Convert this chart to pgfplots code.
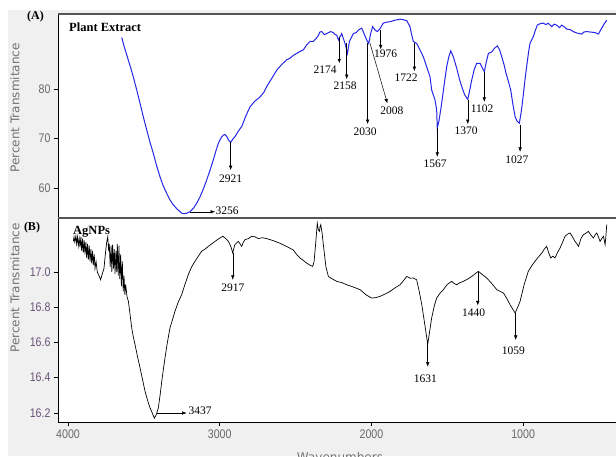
\documentclass[border=0pt]{standalone}
\usepackage{fontspec}
\setmainfont{Liberation Serif}
\newfontfamily\ticfont{Liberation Sans}[FakeStretch=0.85]
\newfontfamily\labfont{DejaVu Sans}
\usepackage{pgfplots}
\pgfplotsset{compat=1.18}
\usetikzlibrary{arrows.meta}
\definecolor{bgGray}{HTML}{F0F0F0}
\definecolor{tickGray}{HTML}{6A6A6A}
\definecolor{tickPurple}{HTML}{6A5278}
\definecolor{labGray}{HTML}{727272}
\definecolor{frameGray}{HTML}{565656}
\definecolor{specBlue}{HTML}{2626E8}
\tikzset{
  ann/.style={black, line width=0.5pt, -{Latex[length=4.5pt,width=3.5pt]}},
  annf/.style={font=\fontsize{11.5}{12}\selectfont, inner sep=0.5pt, text=black},
}
\pgfplotsset{
  base/.style={
    scale only axis, width=558pt,
    xmin=388, xmax=4066, x dir=reverse,
    axis background/.style={fill=white},
    axis x line*=bottom, axis y line*=left,
    tick align=outside, major tick length=4pt,
    tick style={black, line width=0.5pt},
    /pgf/number format/assume math mode=true,
    /pgf/number format/1000 sep={},
    clip mode=individual,
    axis line style={black, line width=0.6pt},
  }
}
\begin{document}
\begin{tikzpicture}[x=1pt,y=1pt]
\useasboundingbox (0,0) rectangle (616,456);
\fill[bgGray] (8,0) rectangle (616,446);

% ---------------- Top panel ----------------
\begin{axis}[base, at={(58pt,442pt)}, anchor=north west, height=203pt,
  ymin=54.14, ymax=95.15, ytick={60,70,80}, xtick=\empty,
  yticklabel style={font=\ticfont\fontsize{12.5}{13}\selectfont, text=tickGray}]
\addplot[specBlue, line width=1pt] coordinates {
(3646,90.4)(3630,88.6)(3613,86.9)(3590,84.6)(3570,82.5)(3548,79.9)(3525,77.1)(3503,74.3)(3481,71.7)(3460,69.3)(3438,67.0)(3416,64.5)(3394,62.3)(3372,60.4)(3349,58.9)(3328,57.6)(3306,56.6)(3280,55.7)(3250,54.9)(3235,54.8)(3218,54.9)(3196,55.2)(3174,55.9)(3152,56.9)(3130,58.2)(3108,59.8)(3086,61.6)(3064,63.6)(3042,65.7)(3025,67.5)(3009,69.0)(2990,70.2)(2976,70.7)(2965,70.8)(2954,70.4)(2940,69.6)(2928,69.2)(2913,69.9)(2899,70.4)(2877,71.5)(2855,72.4)(2830,74.4)(2800,76.4)(2770,77.5)(2734,78.4)(2710,79.3)(2690,80.5)(2660,82.0)(2624,83.8)(2590,85.0)(2558,85.9)(2537,86.2)(2515,86.8)(2492,87.2)(2470,87.6)(2449,87.9)(2427,88.9)(2405,89.6)(2383,89.6)(2365,90.2)(2350,90.8)(2340,91.5)(2328,91.6)(2310,91.0)(2295,91.2)(2270,91.6)(2251,91.4)(2240,91.0)(2229,90.9)(2218,89.9)(2196,91.2)(2174,89.2)(2158,87.2)(2145,89.6)(2119,91.2)(2100,91.4)(2086,91.9)(2064,92.3)(2049,91.2)(2031,89.9)(2018,89.2)(2005,91.2)(1992,92.6)(1976,91.9)(1961,91.6)(1943,92.2)(1922,93.3)(1900,93.5)(1877,93.6)(1845,93.9)(1811,94.1)(1790,94.0)(1767,93.8)(1746,92.6)(1735,91.0)(1724,89.6)(1702,89.2)(1680,87.9)(1658,86.5)(1636,84.5)(1614,82.5)(1603,79.8)(1581,77.8)(1570,75.8)(1566,72.1)(1555,73.5)(1537,77.1)(1520,81.0)(1504,84.5)(1490,86.5)(1477,87.7)(1460,86.5)(1438,84.2)(1420,82.0)(1405,80.5)(1385,78.8)(1365,77.9)(1352,79.8)(1339,81.8)(1322,84.0)(1306,85.2)(1284,85.2)(1270,84.3)(1256,83.5)(1242,85.6)(1229,87.2)(1207,87.5)(1190,88.2)(1170,88.7)(1155,87.9)(1141,86.5)(1125,84.8)(1113,83.2)(1097,81.5)(1082,79.8)(1068,77.0)(1053,74.4)(1040,73.5)(1025,73.1)(1012,75.5)(999,78.8)(988,81.8)(977,84.5)(965,87.3)(955,89.2)(933,90.6)(920,91.8)(907,92.9)(887,93.2)(867,93.3)(850,93.0)(835,93.3)(812,92.6)(795,93.1)(779,92.9)(760,92.4)(746,92.9)(730,92.6)(713,92.1)(690,92.0)(670,91.6)(645,91.3)(614,91.1)(600,91.5)(581,91.6)(555,91.5)(526,91.4)(504,91.1)(482,92.3)(465,93.2)(449,93.9)
};
\draw[ann] (axis cs:3196,55.2) -- (axis cs:3031,55.2);
\node[annf, anchor=west] at (axis cs:3031,55.4) {3256};
\draw[ann] (axis cs:2928,69.2) -- (axis cs:2928,63.6);
\node[annf] at (axis cs:2928,61.8) {2921};
\draw[ann] (axis cs:2212,90.6) -- (axis cs:2212,85.2);
\node[annf] at (axis cs:2306,83.8) {2174};
\draw[ann] (axis cs:2163,89.2) -- (axis cs:2163,82.0);
\node[annf] at (axis cs:2174,80.6) {2158};
\draw[ann] (axis cs:2025,89.2) -- (axis cs:2025,72.9);
\node[annf] at (axis cs:2042,71.3) {2030};
\draw[ann] (axis cs:2009,89.2) -- (axis cs:1895,77.1);
\node[annf] at (axis cs:1866,75.6) {2008};
\draw[ann] (axis cs:1939,91.9) -- (axis cs:1939,88.0);
\node[annf] at (axis cs:1906,87.2) {1976};
\draw[ann] (axis cs:1717,89.2) -- (axis cs:1717,83.6);
\node[annf] at (axis cs:1772,82.3) {1722};
\draw[ann] (axis cs:1566,72.1) -- (axis cs:1566,66.3);
\node[annf] at (axis cs:1581,64.8) {1567};
\draw[ann] (axis cs:1365,77.8) -- (axis cs:1365,72.9);
\node[annf] at (axis cs:1376,71.6) {1370};
\draw[ann] (axis cs:1256,83.5) -- (axis cs:1256,77.4);
\node[annf] at (axis cs:1271,76.1) {1102};
\draw[ann] (axis cs:1020,72.7) -- (axis cs:1020,67.3);
\node[annf] at (axis cs:1042,65.8) {1027};
\end{axis}

% ---------------- Bottom panel ----------------
\begin{axis}[base, at={(58pt,238pt)}, anchor=north west, height=204pt,
  ymin=16.148, ymax=17.307, ytick={16.2,16.4,16.6,16.8,17.0},
  yticklabel style={font=\ticfont\fontsize{12.5}{13}\selectfont, text=tickPurple,
    /pgf/number format/fixed, /pgf/number format/precision=1, /pgf/number format/fixed zerofill},
  xtick={1000,2000,3000,4000},
  xticklabel style={font=\ticfont\fontsize{12.5}{13}\selectfont, text=tickGray}]
\addplot[black, line width=0.7pt] coordinates {
(3965,17.174)(3960,17.2)(3955,17.17)(3948,17.205)(3943,17.16)(3937,17.2)(3932,17.15)(3926,17.19)(3921,17.14)(3915,17.2)(3910,17.12)(3904,17.19)(3899,17.11)(3893,17.18)(3888,17.1)(3882,17.17)(3877,17.08)(3871,17.16)(3866,17.07)(3860,17.15)(3855,17.06)(3849,17.13)(3844,17.05)(3838,17.12)(3833,17.04)(3827,17.1)(3822,17.02)(3815,17.06)(3807,17.0)(3796,16.98)(3785,16.956)(3774,16.99)(3763,17.02)(3754,17.1)(3745,17.17)(3738,17.2)(3732,17.12)(3728,17.16)(3722,17.03)(3716,17.15)(3711,17.0)(3706,17.155)(3700,17.02)(3695,17.13)(3690,16.99)(3684,17.12)(3679,17.0)(3675,17.16)(3669,16.98)(3664,17.15)(3659,16.96)(3653,17.1)(3648,16.92)(3642,17.06)(3636,16.89)(3631,16.98)(3625,16.87)(3620,16.93)(3611,16.86)(3602,16.834)(3591,16.76)(3580,16.682)(3569,16.63)(3558,16.587)(3542,16.52)(3525,16.455)(3509,16.39)(3492,16.322)(3475,16.27)(3459,16.227)(3445,16.2)(3431,16.17)(3418,16.19)(3405,16.227)(3393,16.3)(3382,16.379)(3371,16.45)(3361,16.511)(3345,16.6)(3328,16.682)(3311,16.73)(3295,16.777)(3273,16.83)(3251,16.871)(3229,16.93)(3207,16.985)(3185,17.03)(3163,17.061)(3141,17.09)(3119,17.118)(3097,17.13)(3075,17.146)(3053,17.16)(3031,17.174)(3005,17.19)(2980,17.203)(2960,17.19)(2943,17.174)(2927,17.146)(2914,17.108)(2901,17.155)(2889,17.165)(2877,17.174)(2866,17.16)(2855,17.146)(2844,17.17)(2833,17.184)(2811,17.19)(2789,17.203)(2768,17.2)(2746,17.19)(2718,17.195)(2690,17.19)(2646,17.178)(2602,17.163)(2558,17.145)(2515,17.125)(2493,17.1)(2471,17.08)(2449,17.066)(2427,17.051)(2407,17.04)(2387,17.032)(2378,17.06)(2372,17.118)(2364,17.2)(2357,17.278)(2350,17.24)(2343,17.231)(2338,17.26)(2334,17.269)(2325,17.22)(2317,17.155)(2300,17.03)(2284,16.975)(2256,16.96)(2229,16.947)(2196,16.94)(2163,16.928)(2120,16.915)(2075,16.9)(2035,16.87)(1998,16.852)(1970,16.855)(1943,16.862)(1910,16.875)(1877,16.89)(1845,16.91)(1811,16.928)(1790,16.95)(1767,16.975)(1745,16.965)(1724,16.966)(1702,16.956)(1685,16.89)(1668,16.814)(1648,16.7)(1629,16.59)(1615,16.67)(1603,16.739)(1585,16.81)(1570,16.852)(1548,16.88)(1526,16.9)(1500,16.93)(1471,16.947)(1455,16.935)(1438,16.928)(1416,16.94)(1394,16.947)(1366,16.96)(1339,16.975)(1317,16.99)(1295,17.004)(1268,16.985)(1240,16.966)(1207,16.935)(1174,16.9)(1152,16.89)(1130,16.881)(1108,16.85)(1086,16.814)(1069,16.79)(1053,16.767)(1036,16.8)(1020,16.834)(993,16.93)(966,17.004)(944,17.035)(922,17.061)(900,17.085)(877,17.108)(861,17.13)(845,17.146)(832,17.11)(818,17.08)(804,17.09)(790,17.08)(774,17.11)(757,17.136)(740,17.17)(724,17.203)(708,17.215)(691,17.222)(675,17.2)(658,17.174)(646,17.16)(635,17.146)(619,17.19)(603,17.212)(587,17.22)(570,17.231)(553,17.21)(537,17.193)(526,17.21)(515,17.222)(504,17.2)(493,17.174)(482,17.19)(471,17.203)(465,17.18)(460,17.155)(455,17.2)(449,17.269)
};
\draw[ann] (axis cs:3415,16.199) -- (axis cs:3218,16.199);
\node[annf, anchor=west] at (axis cs:3209,16.212) {3437};
\draw[ann] (axis cs:2914,17.108) -- (axis cs:2914,16.956);
\node[annf] at (axis cs:2914,16.909) {2917};
\draw[ann] (axis cs:1629,16.595) -- (axis cs:1629,16.462);
\node[annf] at (axis cs:1645,16.396) {1631};
\draw[ann] (axis cs:1299,17.002) -- (axis cs:1299,16.81);
\node[annf] at (axis cs:1327,16.771) {1440};
\draw[ann] (axis cs:1049,16.765) -- (axis cs:1049,16.614);
\node[annf] at (axis cs:1064,16.553) {1059};
\end{axis}

% frame lines
\draw[frameGray, line width=2pt] (58,442) -- (616,442);
\draw[frameGray, line width=2pt] (58,238.5) -- (616,238.5);
\draw[black, line width=0.6pt] (58,34) -- (616,34);

% texts
\node[font=\bfseries\fontsize{12}{12}\selectfont] at (35.5,439) {(A)};
\node[font=\bfseries\fontsize{12.5}{13}\selectfont, anchor=west, inner sep=0pt] at (69,429) {Plant Extract};
\node[font=\bfseries\fontsize{12}{12}\selectfont] at (32,228) {(B)};
\node[font=\bfseries\fontsize{12.5}{13}\selectfont, anchor=west, inner sep=0pt] at (73,224) {AgNPs};
\node[font=\labfont\fontsize{12}{12}\selectfont, text=labGray, rotate=90] at (15,348) {Percent Transmitance};
\node[font=\labfont\fontsize{12}{12}\selectfont, text=labGray, rotate=90] at (15,168) {Percent Transmitance};
\node[font=\labfont\fontsize{12}{12}\selectfont, text=labGray, anchor=north] at (340,7) {Wavenumbers};
\end{tikzpicture}
\end{document}
